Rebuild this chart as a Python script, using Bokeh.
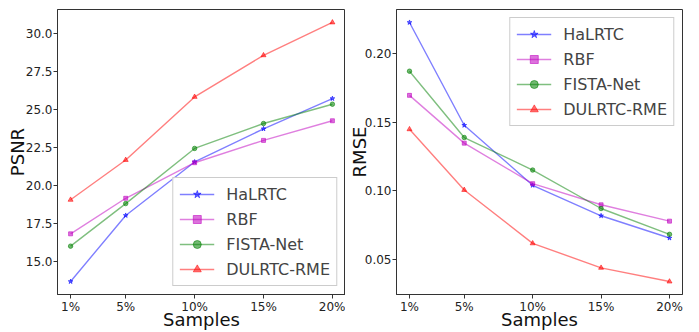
from bokeh.plotting import figure
from bokeh.layouts import row
from bokeh.models import Range1d, FixedTicker, NumeralTickFormatter, Legend
from bokeh.embed import file_html
from bokeh.resources import INLINE

samples = [1, 5, 10, 15, 20]
sample_labels = ["1%", "5%", "10%", "15%", "20%"]
methods = ["HaLRTC", "RBF", "FISTA-Net", "DULRTC-RME"]

psnr_halrtc = [13.67, 18.02, 21.54, 23.72, 25.71]
psnr_rbf = [16.81, 19.15, 21.49, 22.96, 24.25]
psnr_fista = [16.00, 18.80, 22.43, 24.07, 25.34]
psnr_dulrtc = [19.05, 21.67, 25.82, 28.56, 30.72]

rmse_halrtc = [0.2227, 0.1478, 0.1041, 0.0819, 0.0657]
rmse_rbf = [0.1696, 0.1348, 0.1053, 0.0899, 0.0780]
rmse_fista = [0.1872, 0.1389, 0.1152, 0.0872, 0.0684]
rmse_dulrtc = [0.1449, 0.1007, 0.0618, 0.0440, 0.0340]

psnr_ticks = [15.0, 17.5, 20.0, 22.5, 25.0, 27.5, 30.0]
rmse_ticks = [0.05, 0.10, 0.15, 0.20]

colors = ["#0000ff", "#bf00bf", "#008000", "#ff0000"]
markers = ["star", "square", "circle", "triangle"]
msizes = [5, 4, 4.5, 5]
FONT = "DejaVu Sans"


def pad(vals, frac=0.05):
    lo, hi = min(vals), max(vals)
    d = (hi - lo) * frac
    return lo - d, hi + d


def make(series, ylabel, yticks, yfmt, loc, w, bl, br, top, ystd):
    allv = [v for s in series for v in s]
    x0, x1 = pad(samples)
    y0, y1 = pad(allv)
    p = figure(width=w, height=332, output_backend="svg", toolbar_location=None,
               x_range=Range1d(x0, x1), y_range=Range1d(y0, y1),
               min_border_left=bl, min_border_right=br, min_border_top=top,
               min_border_bottom=37)
    p.grid.visible = False
    p.outline_line_color = "#333333"
    p.outline_line_width = 1
    items = []
    for s, name, c, m, ms in zip(series, methods, colors, markers, msizes):
        r1 = p.line(samples, s, line_color=c, line_alpha=0.5, line_width=1.4)
        r2 = p.scatter(samples, s, marker=m, size=ms, fill_color=c, line_color=c,
                       fill_alpha=0.55, line_alpha=0.55)
        items.append((name, [r1, r2]))
    leg = Legend(items=items, location=loc, margin=8)
    leg.label_text_font = FONT
    leg.label_text_font_size = "16px"
    leg.label_height = 20
    leg.glyph_height = 20
    leg.glyph_width = 35
    leg.spacing = 5
    leg.padding = 6
    leg.label_standoff = 12
    leg.border_line_color = "#cccccc"
    leg.border_line_alpha = 1
    leg.background_fill_alpha = 0.8
    p.add_layout(leg, "center")

    p.xaxis.ticker = FixedTicker(ticks=samples)
    p.xaxis.major_label_overrides = {s: l for s, l in zip(samples, sample_labels)}
    p.yaxis.ticker = FixedTicker(ticks=yticks)
    p.yaxis.formatter = NumeralTickFormatter(format=yfmt)
    for ax in (p.xaxis[0], p.yaxis[0]):
        ax.axis_line_color = "#333333"
        ax.major_tick_line_color = "#333333"
        ax.minor_tick_line_color = None
        ax.major_tick_out = 4
        ax.major_tick_in = 0
        ax.major_label_standoff = 1
        ax.major_label_text_font = FONT
        ax.major_label_text_font_size = "12px"
        ax.major_label_text_color = "#222222"
        ax.axis_label_text_font = FONT
        ax.axis_label_text_font_size = "18px"
        ax.axis_label_text_font_style = "normal"
        ax.axis_label_text_color = "#111111"
    p.xaxis.axis_label = "Samples"
    p.yaxis.axis_label = ylabel
    p.xaxis.axis_label_standoff = -8
    p.yaxis.axis_label_standoff = ystd
    return p


p1 = make([psnr_halrtc, psnr_rbf, psnr_fista, psnr_dulrtc], "PSNR", psnr_ticks, "0.0",
          "bottom_right", 345, 57, 0, 9, -5)
p2 = make([rmse_halrtc, rmse_rbf, rmse_fista, rmse_dulrtc], "RMSE", rmse_ticks, "0.00",
          "top_right", 354, 50, 17, 8, -8)

layout = row(p1, p2)
open("out.html", "w").write(file_html(layout, INLINE))
